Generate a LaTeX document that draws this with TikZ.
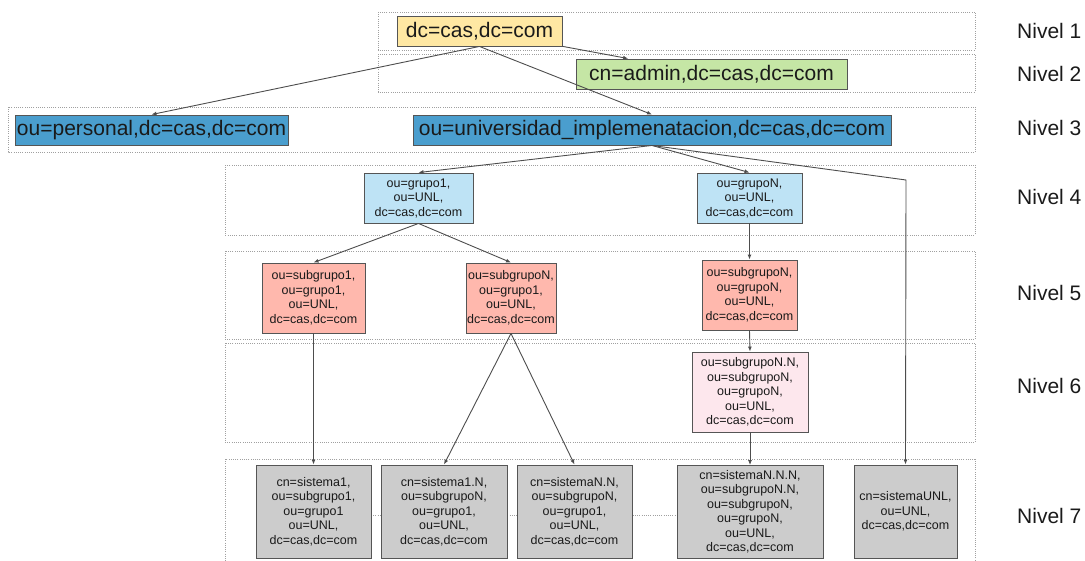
\documentclass[tikz,border=0pt]{standalone}
\usepackage{fontspec}
\setmainfont{Liberation Sans}
\usetikzlibrary{arrows.meta}
\definecolor{cyel}{HTML}{FFE8A3}
\definecolor{cgrn}{HTML}{C5E6A5}
\definecolor{cblu}{HTML}{4A9ECE}
\definecolor{clbl}{HTML}{BEE3F5}
\definecolor{csal}{HTML}{FFB8AD}
\definecolor{cpnk}{HTML}{FDE7ED}
\definecolor{cgry}{HTML}{CCCCCC}
\definecolor{cbrd}{HTML}{555555}
\definecolor{cedge}{HTML}{4D4D4D}
\definecolor{cframe}{HTML}{A0A0A0}
\definecolor{ctxt}{HTML}{1A1A1A}
\tikzset{
  box/.style={draw=cbrd, line width=0.9pt, inner sep=0pt, align=center, text=ctxt},
  bigbox/.style={box, font=\fontsize{21}{24}\selectfont, minimum height=30pt},
  smallbox/.style={box, font=\fontsize{12.5}{14.5}\selectfont},
  frame/.style={draw=cframe, line width=0.9pt, dash pattern=on 1pt off 1.2pt},
  conn/.style={draw=cedge, line width=0.9pt, -{Latex[length=5pt,width=4pt]}},
  lvl/.style={anchor=west, font=\fontsize{21}{24}\selectfont, text=ctxt, inner sep=0pt}
}
\begin{document}
\begin{tikzpicture}[x=1pt,y=-1pt]
\useasboundingbox (0,0) rectangle (1085,560);
\begin{scope}
\clip (0,0) rectangle (1085,560);
% level frames
\draw[frame] (378,12) rectangle (975,50);
\draw[frame] (378,54) rectangle (975,92);
\draw[frame] (8,107) rectangle (975,152);
\draw[frame] (225,165) rectangle (975,235);
\draw[frame] (225,251) rectangle (975,339);
\draw[frame] (225,343) rectangle (975,442);
\draw[frame] (225,459) rectangle (975,566);
\draw[frame] (371,515) -- (677,515);
\end{scope}

% level 1-3
\node[bigbox, fill=cyel, minimum width=165pt] (root) at (479.5,31) {dc=cas,dc=com};
\node[bigbox, fill=cgrn, minimum width=271pt] (admin) at (711.5,74) {cn=admin,dc=cas,dc=com};
\node[bigbox, fill=cblu, minimum width=273pt] (personal) at (151.5,130) {ou=personal,dc=cas,dc=com};
\node[bigbox, fill=cblu, minimum width=478pt] (univ) at (652,130) {ou=universidad\_implemenatacion,dc=cas,dc=com};

% level 4
\node[smallbox, fill=clbl, minimum width=109pt, minimum height=50pt] (grupo1) at (418.5,198) {ou=grupo1,\\ou=UNL,\\dc=cas,dc=com};
\node[smallbox, fill=clbl, minimum width=105pt, minimum height=50pt] (grupoN) at (749.5,198) {ou=grupoN,\\ou=UNL,\\dc=cas,dc=com};

% level 5
\node[smallbox, fill=csal, minimum width=103pt, minimum height=70pt] (sub1) at (313.5,298) {ou=subgrupo1,\\ou=grupo1,\\ou=UNL,\\dc=cas,dc=com};
\node[smallbox, fill=csal, minimum width=90pt, minimum height=70pt] (subN1) at (511,298) {ou=subgrupoN,\\ou=grupo1,\\ou=UNL,\\dc=cas,dc=com};
\node[smallbox, fill=csal, minimum width=95pt, minimum height=70pt] (subN2) at (749.5,295) {ou=subgrupoN,\\ou=grupoN,\\ou=UNL,\\dc=cas,dc=com};

% level 6
\node[smallbox, fill=cpnk, minimum width=116pt, minimum height=80pt] (subNN) at (750,392) {ou=subgrupoN.N,\\ou=subgrupoN,\\ou=grupoN,\\ou=UNL,\\dc=cas,dc=com};

% level 7
\node[smallbox, fill=cgry, minimum width=115pt, minimum height=93pt] (sis1) at (313.5,511.5) {cn=sistema1,\\ou=subgrupo1,\\ou=grupo1\\ou=UNL,\\dc=cas,dc=com};
\node[smallbox, fill=cgry, minimum width=126pt, minimum height=93pt] (sis1N) at (444,511.5) {cn=sistema1.N,\\ou=subgrupoN,\\ou=grupo1,\\ou=UNL,\\dc=cas,dc=com};
\node[smallbox, fill=cgry, minimum width=115pt, minimum height=93pt] (sisNN) at (574.5,511.5) {cn=sistemaN.N,\\ou=subgrupoN,\\ou=grupo1,\\ou=UNL,\\dc=cas,dc=com};
\node[smallbox, fill=cgry, minimum width=146pt, minimum height=93pt] (sisNNN) at (750,512) {cn=sistemaN.N.N,\\ou=subgrupoN.N,\\ou=subgrupoN,\\ou=grupoN,\\ou=UNL,\\dc=cas,dc=com};
\node[smallbox, fill=cgry, minimum width=103pt, minimum height=93pt] (sisUNL) at (905.5,511.5) {cn=sistemaUNL,\\ou=UNL,\\dc=cas,dc=com};

% connectors
\draw[conn] (root.south) -- (personal.north);
\draw[conn] (root.south) -- (univ.north);
\draw[conn] (root) -- (admin);
\draw[conn] (univ.south) -- (grupo1.north);
\draw[conn] (univ.south) -- (grupoN.north);
\coordinate (bend) at (906,180);
\draw[conn] (univ.south) -- (bend) -- (sisUNL.north);
\draw[conn] (grupo1.south) -- (sub1.north);
\draw[conn] (grupo1.south) -- (subN1.north);
\draw[conn] (grupoN.south) -- (subN2.north);
\draw[conn] (subN2.south) -- (subNN.north);
\draw[conn] (subNN.south) -- (sisNNN.north);
\draw[conn] (sub1.south) -- (sis1.north);
\draw[conn] (subN1.south) -- (sis1N.north);
\draw[conn] (subN1.south) -- (sisNN.north);

% level labels
\node[lvl] (n1) at (1017,31) {Nivel 1};
\node[lvl] (n2) at (1017,74) {Nivel 2};
\node[lvl] (n3) at (1017,128) {Nivel 3};
\node[lvl] (n4) at (1017,197) {Nivel 4};
\node[lvl] (n5) at (1017,293) {Nivel 5};
\node[lvl] (n6) at (1017,386) {Nivel 6};
\node[lvl] (n7) at (1017,516) {Nivel 7};
\end{tikzpicture}
\end{document}
